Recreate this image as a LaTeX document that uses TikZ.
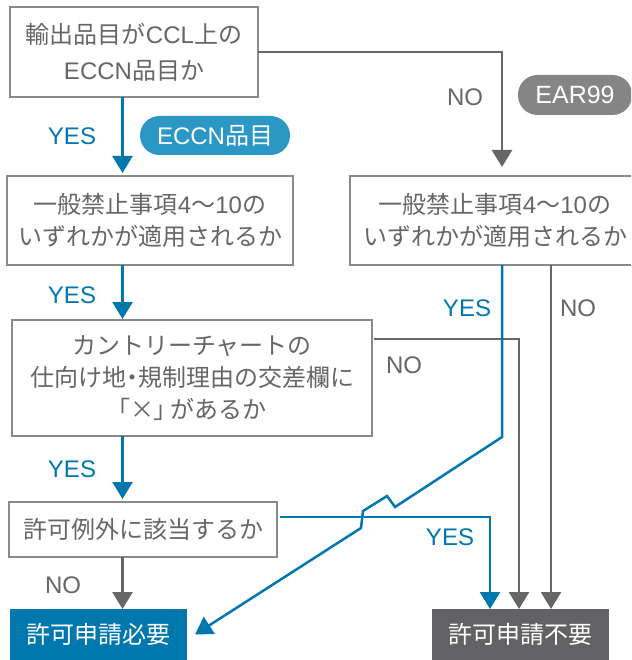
\documentclass[tikz,border=0pt]{standalone}
\usepackage{fontspec}
\setmainfont{Noto Sans CJK JP}
\newfontfamily\lat{Liberation Sans}
\newfontfamily\jpp[RawFeature=+palt]{Noto Sans CJK JP}
\usetikzlibrary{arrows.meta,calc}
\definecolor{cblue}{HTML}{0077AD}
\definecolor{cpill}{HTML}{2A97C5}
\definecolor{cgline}{HTML}{666666}
\definecolor{cborder}{HTML}{8A8A8A}
\definecolor{ctext}{HTML}{666666}
\definecolor{cdark}{HTML}{626264}
\definecolor{cgpill}{HTML}{858585}
\tikzset{
  qbox/.style={draw=cborder, line width=1.5pt, inner sep=0pt, outer sep=0pt, align=center, text=ctext, font=\fontsize{24}{32}\selectfont},
  endbox/.style={inner sep=0pt, outer sep=0pt, text=white, font=\fontsize{24}{26}\selectfont, minimum width=177pt, minimum height=51pt},
  pill/.style={inner sep=0pt, outer sep=0pt, text=white, font=\fontsize{24}{26}\selectfont, rounded corners=19.5pt},
  lbl/.style={inner sep=0pt, font=\fontsize{24}{26}\selectfont\lat},
  bluearr/.style={draw=cblue, line width=2.5pt, -{Triangle[length=17pt,width=20pt]}},
  grayarr/.style={draw=cgline, line width=2.5pt, -{Triangle[length=17pt,width=20pt]}},
}
\begin{document}
\begin{tikzpicture}[x=1pt,y=-1pt]
\clip (0,0) rectangle (631,660);
\fill[white] (0,0) rectangle (631,660);
% boxes
\node[qbox, minimum width=248pt, minimum height=90pt, font=\fontsize{24}{36}\selectfont] (b1) at (134,52) {輸出品目が{\lat CCL}上の\\{\lat ECCN}品目か};
\node[qbox, minimum width=286pt, minimum height=89pt] (b2) at (150,220.5) {一般禁止事項{\lat 4}～{\lat 10}の\\いずれかが適用されるか};
\node[qbox, minimum width=290pt, minimum height=89pt] (b3) at (495,220.5) {一般禁止事項{\lat 4}～{\lat 10}の\\いずれかが適用されるか};
\node[qbox, minimum width=360pt, minimum height=116pt] (b4) at (192,378) {カントリーチャートの\\仕向け地{\jpp ・}規制理由の交差欄に\\{\jpp 「×」}\,があるか};
\node[qbox, minimum width=268pt, minimum height=55pt] (b5) at (143,529.5) {許可例外に該当するか};
\node[endbox, fill=cblue] (b6) at (98.5,634.5) {許可申請必要};
\node[endbox, fill=cdark] (b7) at (520.5,634.5) {許可申請不要};
% pills
\node[pill, fill=cpill, minimum width=150pt, minimum height=39pt] (p1) at (215,135.5) {{\lat ECCN}品目};
\node[pill, fill=cgpill, minimum width=114pt, minimum height=40pt, font=\fontsize{25}{26}\selectfont\lat] (p2) at (575,95) {EAR99};
% labels
\node[lbl, text=cblue] (y1) at (72,136) {YES};
\node[lbl, text=ctext] (n1) at (465,97) {NO};
\node[lbl, text=cblue] (y2) at (72,295) {YES};
\node[lbl, text=cblue] (y3) at (467,308) {YES};
\node[lbl, text=ctext] (n2) at (578,308) {NO};
\node[lbl, text=ctext] (n3) at (404,365) {NO};
\node[lbl, text=cblue] (y4) at (72,469) {YES};
\node[lbl, text=cblue] (y5) at (450,537) {YES};
\node[lbl, text=ctext] (n4) at (63,585) {NO};
% helper coordinates
\coordinate (xl) at (122.5,0);
\coordinate (xn) at (502,0);
\coordinate (xr) at (551,0);
\coordinate (xm) at (519,0);
\coordinate (xb) at (490,0);
\coordinate (s4) at ($(b4.east)+(2,-39)$);
\coordinate (s5) at ($(b5.east)+(3,-12.5)$);
\coordinate (j0) at (502,437);
\coordinate (j1) at (395,507);
\coordinate (j2) at (387,496);
\coordinate (j3) at (363,511);
\coordinate (j4) at (361,528);
\coordinate (t6) at ($(b6.east)+(8,0)$);
% connectors
\draw[grayarr, shorten >=9pt] (b1.east) -| (b3.north -| xn);
\draw[grayarr] (b3.south -| xr) -- (b7.north -| xr);
\draw[grayarr] (s4) -| (b7.north -| xm);
\draw[grayarr] (b5.south -| xl) -- (b6.north -| xl);
\draw[bluearr, shorten >=3pt] (b1.south -| xl) -- (b2.north -| xl);
\draw[bluearr, shorten >=1pt] (b2.south -| xl) -- (b4.north -| xl);
\draw[bluearr, shorten >=3pt] (b4.south -| xl) -- (b5.north -| xl);
\draw[bluearr] (s5) -| (b7.north -| xb);
\draw[bluearr, line join=miter] (b3.south -| xn) -- (j0) -- (j1) -- (j2) -- (j3) -- (j4) -- (t6);
\end{tikzpicture}
\end{document}
